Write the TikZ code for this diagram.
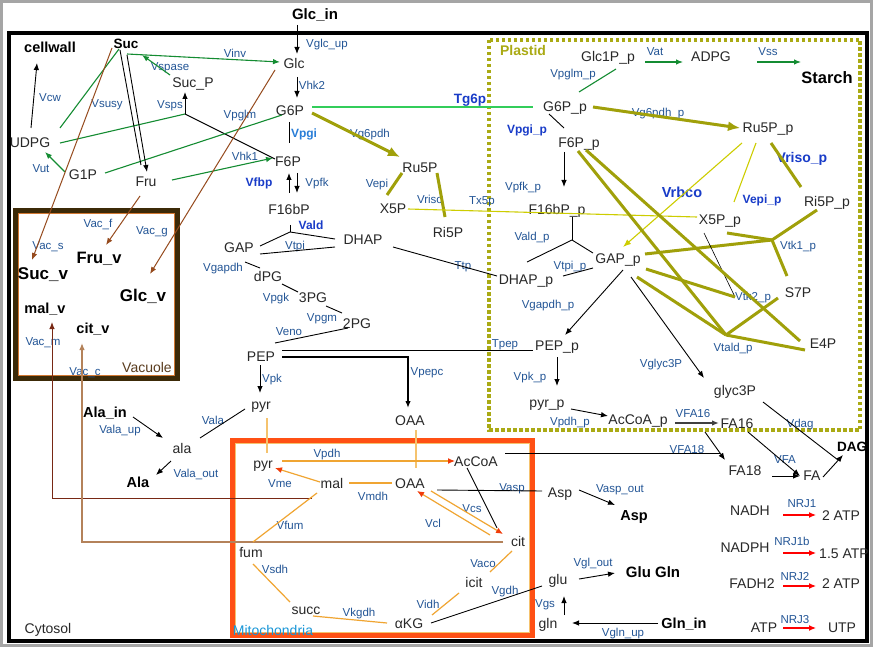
\documentclass[tikz,border=0pt]{standalone}
\usepackage{fontspec}
\setmainfont{Liberation Sans}
\usetikzlibrary{arrows.meta,calc}
\pgfdeclarelayer{bg}
\pgfsetlayers{bg,main}
\definecolor{bggray}{RGB}{165,165,165}
\definecolor{txtgray}{RGB}{40,40,40}
\definecolor{lblue}{RGB}{35,85,150}
\definecolor{bblue}{RGB}{25,60,200}
\definecolor{pgiblue}{RGB}{40,125,215}
\definecolor{dgreen}{RGB}{20,140,50}
\definecolor{tgreen}{RGB}{50,205,90}
\definecolor{olivec}{RGB}{160,160,10}
\definecolor{plast}{RGB}{170,170,20}
\definecolor{yelc}{RGB}{205,205,0}
\definecolor{morange}{RGB}{240,165,50}
\definecolor{redor}{RGB}{240,60,10}
\definecolor{lorange}{RGB}{245,195,110}
\definecolor{brn}{RGB}{150,75,30}
\definecolor{dbrn}{RGB}{120,40,20}
\definecolor{lbrn}{RGB}{180,130,90}
\definecolor{vacbrn}{RGB}{60,42,8}
\definecolor{vacor}{RGB}{210,120,50}
\definecolor{mitor}{RGB}{255,80,20}
\definecolor{mitlab}{RGB}{25,150,215}
\definecolor{vaclab}{RGB}{90,60,30}
\begin{document}
\begin{tikzpicture}[x=1pt,y=-1pt,
  met/.style={font=\fontsize{14}{16}\selectfont, text=txtgray, inner sep=1pt, text height=10pt, text depth=0pt},
  bmet/.style={font=\fontsize{14.5}{16}\selectfont\bfseries, text=black, inner sep=1pt, text height=10.4pt, text depth=0pt},
  lb/.style={font=\fontsize{11.5}{13}\selectfont, text=lblue, inner sep=0.5pt, text height=8.3pt, text depth=0pt},
  blb/.style={font=\fontsize{12}{13}\selectfont\bfseries, text=bblue, inner sep=0.5pt, text height=8.6pt, text depth=0pt},
  bk/.style={draw=black, line width=0.9pt},
  ar/.style={-{Latex[length=7pt,width=5.5pt]}},
  gr/.style={draw=dgreen, line width=1.1pt},
  tgr/.style={draw=tgreen, line width=1.3pt},
  ol/.style={draw=olivec, line width=3pt},
  olar/.style={-{Latex[length=12pt,width=10pt]}},
  yl/.style={draw=yelc, line width=1.1pt},
  yar/.style={-{Latex[length=8pt,width=6pt]}},
  mo/.style={draw=morange, line width=1.2pt},
  moar/.style={-{Latex[length=7pt,width=6pt,color=redor]}},
  lor/.style={draw=lorange, line width=1.3pt},
  brnl/.style={draw=brn, line width=1pt},
  dbrnl/.style={draw=dbrn, line width=1pt},
  lbrnl/.style={draw=lbrn, line width=1.3pt},
  redar/.style={draw=red, line width=1.2pt, -{Latex[length=7pt,width=6pt]}}
]
\useasboundingbox (0,0) rectangle (873,647);
\begin{pgfonlayer}{bg}
\fill[bggray] (0,0) rectangle (873,647);
\fill[white] (3,3) rectangle (870,644);
\draw[line width=4pt] (9,33) rectangle (867,641);
\draw[plast, line width=4pt, dash pattern=on 3.5pt off 2.5pt] (489,40) rectangle (860,430);
\draw[vacbrn, line width=5pt] (15.5,210.5) rectangle (177.5,378.5);
\draw[vacor, line width=0.8pt] (18.5,213.5) rectangle (174.5,375.5);
\draw[mitor, line width=5pt] (232.5,440.5) rectangle (532.5,635.5);
\draw[lorange, line width=0.8pt] (235.5,443.5) rectangle (529.5,632.5);
\end{pgfonlayer}

% compartment labels
\node[font=\fontsize{14}{16}\selectfont\bfseries, text=plast] (Lplastid) at (523,50) {Plastid};
\node[font=\fontsize{14}{16}\selectfont, text=txtgray] (Lcyto) at (48,630) {Cytosol};
\node[font=\fontsize{14}{16}\selectfont, text=mitlab] (Lmito) at (273,630) {Mitochondria};
\node[font=\fontsize{14}{16}\selectfont, text=vaclab] (Lvac) at (147,367) {Vacuole};

% bold metabolites
\node[bmet, font=\fontsize{15}{16}\selectfont\bfseries] (Glcin) at (315,14) {Glc\_in};
\node[bmet] (cellwall) at (50,47) {cellwall};
\node[bmet, font=\fontsize{13.5}{16}\selectfont\bfseries] (Suc) at (126,43) {Suc};
\node[bmet, font=\fontsize{16.5}{18}\selectfont\bfseries] (Starch) at (827,78) {Starch};
\node[bmet, font=\fontsize{17}{18}\selectfont\bfseries] (Sucv) at (43,274) {Suc\_v};
\node[bmet, font=\fontsize{16.5}{18}\selectfont\bfseries] (Fruv) at (99,258) {Fru\_v};
\node[bmet, font=\fontsize{17}{18}\selectfont\bfseries] (Glcv) at (143,296) {Glc\_v};
\node[bmet] (malv) at (45,308) {mal\_v};
\node[bmet] (citv) at (93,328) {cit\_v};
\node[bmet] (Alain) at (105,412) {Ala\_in};
\node[bmet] (Ala) at (138,482) {Ala};
\node[bmet] (Aspout) at (634,515) {Asp};
\node[bmet, font=\fontsize{15}{16}\selectfont\bfseries] (GluGln) at (653,572) {Glu Gln};
\node[bmet] (Glnin) at (684,623) {Gln\_in};
\node[bmet, font=\fontsize{13.5}{16}\selectfont\bfseries] (DAG) at (852,446) {DAG};

% cytosol metabolites
\node[met] (Glc) at (294,64) {Glc};
\node[met] (G6P) at (290,111) {G6P};
\node[met] (F6P) at (288,162) {F6P};
\node[met] (F16bP) at (289,210) {F16bP};
\node[met] (SucP) at (193,83) {Suc\_P};
\node[met] (UDPG) at (30,143) {UDPG};
\node[met] (G1P) at (83,175) {G1P};
\node[met] (Fru) at (146,182) {Fru};
\node[met] (Ru5P) at (420,168) {Ru5P};
\node[met] (X5P) at (393,209) {X5P};
\node[met] (Ri5P) at (448,232) {Ri5P};
\node[met] (GAP) at (239,248) {GAP};
\node[met] (DHAP) at (363,239) {DHAP};
\node[met] (dPG) at (268,276) {dPG};
\node[met] (PGt) at (313,297) {3PG};
\node[met] (PGd) at (357,323) {2PG};
\node[met] (PEP) at (261,356) {PEP};
\node[met] (pyr) at (261,404) {pyr};
\node[met] (OAA) at (410,420) {OAA};
\node[met] (ala) at (182,448) {ala};
\node[met] (Asp) at (560,492) {Asp};
\node[met] (glu) at (558,579) {glu};
\node[met] (gln) at (548,623) {gln};
% mitochondria
\node[met] (pyrm) at (263,463) {pyr};
\node[met] (AcCoA) at (476,461) {AcCoA};
\node[met] (mal) at (332,483) {mal};
\node[met] (OAAm) at (410,483) {OAA};
\node[met] (cit) at (518,541) {cit};
\node[met] (fum) at (251,552) {fum};
\node[met] (icit) at (474,582) {icit};
\node[met] (succ) at (306,609) {succ};
\node[met] (aKG) at (409,623) {αKG};
% plastid
\node[met] (Glc1Pp) at (608,57) {Glc1P\_p};
\node[met] (ADPG) at (711,57) {ADPG};
\node[met] (G6Pp) at (565,107) {G6P\_p};
\node[met] (F6Pp) at (579,143) {F6P\_p};
\node[met] (Ru5Pp) at (768,128) {Ru5P\_p};
\node[met] (F16bPp) at (557,210) {F16bP\_p};
\node[met] (X5Pp) at (720,220) {X5P\_p};
\node[met] (Ri5Pp) at (827,202) {Ri5P\_p};
\node[met] (GAPp) at (618,259) {GAP\_p};
\node[met] (DHAPp) at (526,279) {DHAP\_p};
\node[met] (S7P) at (798,293) {S7P};
\node[met] (E4P) at (823,343) {E4P};
\node[met] (PEPp) at (557,345) {PEP\_p};
\node[met] (glyc3P) at (735,390) {glyc3P};
\node[met] (pyrp) at (547,402) {pyr\_p};
\node[met] (AcCoAp) at (638,419) {AcCoA\_p};
\node[met] (FA16) at (737,423) {FA16};
\node[met] (FA18) at (745,470) {FA18};
\node[met] (FA) at (812,475) {FA};
% energy
\node[met] (NADH) at (750,510) {NADH};
\node[met] (ATPa) at (841,515) {2 ATP};
\node[met] (NADPH) at (745,547) {NADPH};
\node[met] (ATPb) at (844,553) {1.5 ATP};
\node[met] (FADH2) at (752,583) {FADH2};
\node[met] (ATPc) at (841,583) {2 ATP};
\node[met] (ATPd) at (764,627) {ATP};
\node[met] (UTP) at (842,627) {UTP};

% reaction labels
\node[lb] (LVglcup) at (327,43) {Vglc\_up};
\node[lb] (LVhk2) at (312,85) {Vhk2};
\node[lb] (LVinv) at (235,53) {Vinv};
\node[lb] (LVspase) at (170,66) {Vspase};
\node[lb] (LVcw) at (50,97) {Vcw};
\node[lb] (LVsusy) at (107,103) {Vsusy};
\node[lb] (LVsps) at (170,104) {Vsps};
\node[lb] (LVpglm) at (240,114) {Vpglm};
\node[lb] (LVut) at (41,168) {Vut};
\node[lb] (LVhk1) at (245,156) {Vhk1};
\node[lb] (LVpfk) at (317,182) {Vpfk};
\node[lb] (LVg6pdh) at (370,133) {Vg6pdh};
\node[lb] (LVepi) at (377,183) {Vepi};
\node[lb] (LVriso) at (430,199) {Vriso};
\node[lb] (LTx5p) at (482,200) {Tx5p};
\node[lb] (LVtpi) at (295,245) {Vtpi};
\node[lb] (LVgapdh) at (223,267) {Vgapdh};
\node[lb] (LVpgk) at (276,297) {Vpgk};
\node[lb] (LVpgm) at (322,317) {Vpgm};
\node[lb] (LVeno) at (289,331) {Veno};
\node[lb] (LVpk) at (272,378) {Vpk};
\node[lb] (LVpepc) at (427,371) {Vpepc};
\node[lb] (LTtp) at (463,265) {Ttp};
\node[lb] (LTpep) at (505,343) {Tpep};
\node[lb] (LVala) at (213,420) {Vala};
\node[lb] (LValaup) at (120,429) {Vala\_up};
\node[lb] (LValaout) at (196,473) {Vala\_out};
\node[lb] (LVacf) at (98,223) {Vac\_f};
\node[lb] (LVacg) at (152,230) {Vac\_g};
\node[lb] (LVacs) at (48,245) {Vac\_s};
\node[lb] (LVacm) at (43,341) {Vac\_m};
\node[lb] (LVacc) at (85,371) {Vac\_c};
\node[lb] (LVpdh) at (327,453) {Vpdh};
\node[lb] (LVme) at (280,483) {Vme};
\node[lb] (LVmdh) at (373,496) {Vmdh};
\node[lb] (LVasp) at (512,487) {Vasp};
\node[lb] (LVcs) at (472,508) {Vcs};
\node[lb] (LVcl) at (433,523) {Vcl};
\node[lb] (LVfum) at (290,525) {Vfum};
\node[lb] (LVsdh) at (275,569) {Vsdh};
\node[lb] (LVaco) at (483,563) {Vaco};
\node[lb] (LVgdh) at (505,590) {Vgdh};
\node[lb] (LVidh) at (428,604) {Vidh};
\node[lb] (LVkgdh) at (359,612) {Vkgdh};
\node[lb] (LVaspout) at (620,488) {Vasp\_out};
\node[lb] (LVglout) at (593,562) {Vgl\_out};
\node[lb] (LVgs) at (545,603) {Vgs};
\node[lb] (LVglnup) at (623,632) {Vgln\_up};
\node[lb] (LNRJa) at (802,503) {NRJ1};
\node[lb] (LNRJb) at (792,541) {NRJ1b};
\node[lb] (LNRJc) at (795,576) {NRJ2};
\node[lb] (LNRJd) at (795,619) {NRJ3};
\node[lb] (LVFAa) at (693,413) {VFA16};
\node[lb] (LVFAb) at (687,449) {VFA18};
\node[lb] (LVFA) at (785,459) {VFA};
\node[lb] (LVdag) at (800,423) {Vdag};
\node[lb] (LVglyc) at (661,363) {Vglyc3P};
\node[lb] (LVgapdhp) at (548,304) {Vgapdh\_p};
\node[lb] (LVpkp) at (530,376) {Vpk\_p};
\node[lb] (LVpdhp) at (570,421) {Vpdh\_p};
\node[lb] (LValdp) at (532,236) {Vald\_p};
\node[lb] (LVtpip) at (570,265) {Vtpi\_p};
\node[lb] (LVpfkp) at (523,186) {Vpfk\_p};
\node[lb] (LVpglmp) at (573,73) {Vpglm\_p};
\node[lb] (LVat) at (655,51) {Vat};
\node[lb] (LVss) at (768,51) {Vss};
\node[lb] (LVg6pdhp) at (658,112) {Vg6pdh\_p};
\node[lb] (LVtka) at (798,245) {Vtk1\_p};
\node[lb] (LVtkb) at (753,296) {Vtk2\_p};
\node[lb] (LVtald) at (733,347) {Vtald\_p};
\node[blb, text=pgiblue] (LVpgi) at (304,133) {Vpgi};
\node[blb] (LVfbp) at (259,182) {Vfbp};
\node[blb] (LVald) at (311,225) {Vald};
\node[blb, font=\fontsize{13.5}{14}\selectfont\bfseries] (LTg6p) at (470,99) {Tg6p};
\node[blb] (LVpgip) at (527,129) {Vpgi\_p};
\node[blb, font=\fontsize{14.5}{15}\selectfont\bfseries] (LVrbco) at (682,193) {Vrbco};
\node[blb] (LVepip) at (762,199) {Vepi\_p};
\node[blb, font=\fontsize{14}{15}\selectfont\bfseries] (LVrisop) at (802,158) {Vriso\_p};

% ---- connectors: upper glycolysis
\draw[bk,ar] ($(Glcin)+(-18,11)$) -- ($(Glc)+(3,-10)$);
\draw[bk,ar] ($(Glc)+(3,13)$) -- ($(G6P)+(7,-13)$);
\draw[bk] ($(G6P)+(-1,11)$) -- ($(F6P)+(1,-19)$);
\draw[bk,ar] ($(F16bP)+(0,-17)$) -- ($(F6P)+(1,11)$);
\draw[bk,ar] ($(F6P)+(9,11)$) -- ($(F16bP)+(8,-17)$);
% sucrose
\draw[gr,ar] ($(Suc)+(1,11)$) -- ($(Glc)+(-14,-2)$);
\draw[gr,ar] ($(SucP)+(-23,-8)$) -- ($(Suc)+(16,12)$);
\draw[gr] ($(Suc)+(-7,6)$) -- ($(UDPG)+(30,-15)$);
\coordinate (Jsps) at (185,114);
\draw[gr] ($(UDPG)+(30,0)$) -- (Jsps);
\draw[bk] ($(F6P)+(-13,-3)$) -- (Jsps);
\draw[bk,ar] (Jsps) -- ($(SucP)+(-8,9)$);
\draw[gr] ($(G1P)+(22,-2)$) -- ($(G6P)+(-8,4)$);
\draw[gr,ar] ($(Fru)+(26,-2)$) -- ($(F6P)+(-15,-4)$);
\draw[gr,ar] ($(G1P)+(-18,-3)$) -- ($(UDPG)+(15,9)$);
\draw[bk,ar] ($(UDPG)+(1,-15)$) -- ($(cellwall)+(-13,16)$);
\draw[bk] ($(Suc)+(-6,7)$) -- ($(Fru)+(-5,-17)$);
\draw[bk,ar] ($(Suc)+(1,12)$) -- ($(Fru)+(1,-10)$);
% vacuole transport
\draw[brnl,ar] ($(Suc)+(-14,5)$) -- ($(Sucv)+(-11,-14)$);
\draw[brnl,ar] ($(Fru)+(-6,14)$) -- ($(Fruv)+(7,-13)$);
\draw[brnl,ar] ($(Glc)+(-19,6)$) -- ($(Glcv)+(7,-22)$);
\draw[dbrnl,ar] ($(mal)+(-20,15)$) -| ($(malv)+(7,14)$);
\draw[lbrnl,ar] ($(cit)+(-15,1)$) -| ($(citv)+(-11,15)$);
% pentose phosphate (cytosol)
\draw[tgr] ($(G6P)+(22,-4)$) -- ($(G6Pp)+(-32,0)$);
\draw[ol,olar] ($(G6P)+(22,2)$) -- ($(Ru5P)+(-20,-11)$);
\draw[ol] ($(X5P)+(-6,-14)$) -- ($(Ru5P)+(-18,5)$);
\draw[ol] ($(Ru5P)+(17,5)$) -- ($(Ri5P)+(-3,-15)$);
\draw[yl] ($(X5P)+(15,0)$) -- ($(X5Pp)+(-23,-3)$);
% lower glycolysis
\coordinate (Jald) at (290,232);
\draw[bk] ($(F16bP)+(1,15)$) -- (Jald);
\draw[bk] (Jald) -- ($(GAP)+(21,-2)$);
\draw[bk] (Jald) -- ($(DHAP)+(-28,0)$);
\draw[bk] ($(GAP)+(21,6)$) -- ($(DHAP)+(-28,8)$);
\draw[bk] ($(GAP)+(6,14)$) -- ($(dPG)+(-8,-8)$);
\draw[bk] ($(dPG)+(14,8)$) -- ($(PGt)+(-15,-5)$);
\draw[bk] ($(PGt)+(13,9)$) -- ($(PGd)+(-15,-10)$);
\draw[bk] ($(PGd)+(-9,5)$) -- ($(PEP)+(14,-13)$);
\draw[bk] ($(PEP)+(21,-6)$) -- ($(PEPp)+(-24,5)$);
\draw[bk,line width=1.4pt,ar] ($(PEP)+(21,1)$) -| ($(OAA)+(-2,-12)$);
\draw[bk,ar] ($(PEP)+(-1,9)$) -- ($(pyr)+(-1,-11)$);
\draw[bk] ($(DHAP)+(30,8)$) -- ($(DHAPp)+(-29,-3)$);
\draw[bk] ($(pyr)+(-16,5)$) -- ($(ala)+(18,-10)$);
\draw[bk,ar] ($(Alain)+(28,5)$) -- ($(ala)+(-19,-10)$);
\draw[bk,ar] ($(ala)+(-11,13)$) -- ($(Ala)+(18,-7)$);
% mitochondria
\draw[lor] ($(pyr)+(6,14)$) -- ($(pyrm)+(4,-10)$);
\draw[lor] ($(OAA)+(6,10)$) -- ($(OAAm)+(6,-15)$);
\draw[mo,moar] ($(pyrm)+(19,-2)$) -- ($(AcCoA)+(-21,0)$);
\draw[mo,moar] ($(mal)+(-12,-1)$) -- ($(pyrm)+(12,5)$);
\draw[mo] ($(mal)+(17,0)$) -- ($(OAAm)+(-18,0)$);
\draw[mo,moar] ($(OAAm)+(21,8)$) -- ($(cit)+(-15,-7)$);
\draw[mo,moar] ($(cit)+(-28,-6)$) -- ($(OAAm)+(7,8)$);
\draw[bk] ($(AcCoA)+(-9,7)$) -- ($(cit)+(-21,-13)$);
\draw[mo] ($(mal)+(-15,10)$) -- ($(fum)+(2,-10)$);
\draw[mo] ($(fum)+(2,12)$) -- ($(succ)+(-16,-7)$);
\draw[mo] ($(succ)+(7,7)$) -- ($(aKG)+(-22,0)$);
\draw[mo] ($(icit)+(-15,11)$) -- ($(aKG)+(23,-8)$);
\draw[mo] ($(cit)+(-6,10)$) -- ($(icit)+(16,-10)$);
\draw[bk] ($(aKG)+(22,0)$) -- ($(glu)+(-16,7)$);
\draw[bk] ($(OAAm)+(27,7)$) -- ($(Asp)+(-18,-1)$);
% fatty acids
\coordinate (Jfa) at (720,453);
\draw[bk] ($(AcCoA)+(29,-8)$) -- (Jfa);
\draw[bk,ar] ($(FA16)+(-32,9)$) -- ($(FA18)+(-20,-10)$);
\draw[draw=black!75, line width=1.5pt, ar] ($(AcCoAp)+(37,4)$) -- ($(FA16)+(-18,0)$);
\draw[bk,ar] ($(FA16)+(11,9)$) -- ($(FA)+(-12,1)$);
\draw[bk,ar] ($(FA18)+(27,6)$) -- ($(FA)+(-12,1)$);
\draw[bk,ar] ($(FA)+(11,2)$) -- ($(DAG)+(-9,9)$);
\draw[bk] ($(glyc3P)+(28,12)$) -- ($(DAG)+(-14,14)$);
% plastid glycolysis
\draw[bk,ar] ($(pyrp)+(24,7)$) -- ($(AcCoAp)+(-30,-3)$);
\draw[bk,ar] ($(PEPp)+(0,12)$) -- ($(pyrp)+(10,-16)$);
\draw[bk,ar] ($(GAPp)+(5,11)$) -- ($(PEPp)+(8,-10)$);
\draw[bk,ar] ($(GAPp)+(13,18)$) -- ($(glyc3P)+(-31,-12)$);
\coordinate (Jaldp) at (572,240);
\draw[bk] ($(F16bPp)+(15,7)$) -- (Jaldp);
\draw[bk] (Jaldp) -- ($(DHAPp)+(1,-17)$);
\draw[bk] (Jaldp) -- ($(GAPp)+(-25,-6)$);
\draw[bk] ($(DHAPp)+(37,-3)$) -- ($(GAPp)+(-25,9)$);
\draw[bk,ar] ($(F6Pp)+(-15,9)$) -- ($(F16bPp)+(7,-23)$);
\draw[bk] ($(G6Pp)+(-16,7)$) -- ($(F6Pp)+(-15,-15)$);
\draw[gr] ($(Glc1Pp)+(8,12)$) -- ($(G6Pp)+(14,-15)$);
\draw[gr,ar] ($(Glc1Pp)+(37,5)$) -- ($(ADPG)+(-28,5)$);
\draw[gr,ar] ($(ADPG)+(46,5)$) -- ($(Starch)+(-26,-16)$);
% plastid pentose phosphate
\draw[ol,olar] ($(G6Pp)+(28,0)$) -- ($(Ru5Pp)+(-28,0)$);
\draw[yl,yar] ($(Ru5Pp)+(-26,15)$) -- ($(GAPp)+(5,-12)$);
\draw[yl] ($(Ru5Pp)+(-12,15)$) -- ($(X5Pp)+(14,-18)$);
\draw[ol] ($(Ru5Pp)+(3,15)$) -- ($(Ri5Pp)+(-26,-15)$);
\coordinate (Jtka) at (772,240);
\draw[ol] ($(X5Pp)+(7,13)$) -- (Jtka);
\draw[ol] (Jtka) -- ($(Ri5Pp)+(-10,8)$);
\draw[ol] (Jtka) -- ($(S7P)+(-11,-17)$);
\draw[ol] (Jtka) -- ($(GAPp)+(27,-5)$);
\coordinate (Jtkb) at (735,297);
\draw[draw=black, line width=0.6pt] ($(X5Pp)+(-16,13)$) -- (Jtkb);
\draw[ol] ($(GAPp)+(28,10)$) -- (Jtkb);
\draw[ol] ($(F6Pp)+(7,7)$) -- ($(E4P)+(-23,-2)$);
\coordinate (Jtald) at (726,335);
\draw[ol] ($(F6Pp)+(-1,8)$) -- (Jtald);
\draw[ol] ($(GAPp)+(19,18)$) -- (Jtald);
\draw[ol] (Jtald) -- ($(S7P)+(-20,5)$);
\draw[ol] (Jtald) -- ($(E4P)+(-18,7)$);
% amino acids
\draw[bk,ar] ($(Asp)+(19,-2)$) -- ($(Aspout)+(-19,-10)$);
\draw[bk,ar] ($(glu)+(21,0)$) -- ($(GluGln)+(-38,1)$);
\draw[bk,ar] ($(gln)+(16,-8)$) -- ($(glu)+(6,17)$);
\draw[bk,ar] ($(Glnin)+(-26,0)$) -- ($(gln)+(24,0)$);
% energy
\draw[redar] ($(NADH)+(33,5)$) -- ($(ATPa)+(-25,0)$);
\draw[redar] ($(NADPH)+(38,6)$) -- ($(ATPb)+(-28,0)$);
\draw[redar] ($(FADH2)+(31,3)$) -- ($(ATPc)+(-25,3)$);
\draw[redar] ($(ATPd)+(19,1)$) -- ($(UTP)+(-26,1)$);
\end{tikzpicture}
\end{document}
